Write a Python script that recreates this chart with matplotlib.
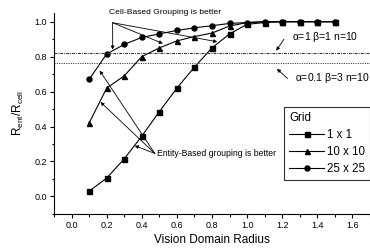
import matplotlib
matplotlib.use("Agg")
import matplotlib.pyplot as plt
from matplotlib.ticker import MultipleLocator

plt.rcParams['font.family'] = ['Liberation Sans', 'DejaVu Sans']
plt.rcParams['mathtext.fontset'] = 'custom'
plt.rcParams['mathtext.rm'] = 'Liberation Sans'
plt.rcParams['mathtext.it'] = 'Liberation Sans'

# Data
radius = [0.1, 0.2, 0.3, 0.4, 0.5, 0.6, 0.7, 0.8, 0.9, 1.0, 1.1, 1.2, 1.3, 1.4, 1.5]
grid_1 = [0.03, 0.105, 0.215, 0.345, 0.485, 0.62, 0.74, 0.85, 0.93, 0.985, 0.995, 1.0, 1.0, 1.0, 1.0]
grid_10 = [0.42, 0.62, 0.69, 0.80, 0.85, 0.89, 0.915, 0.935, 0.975, 0.995, 1.0, 1.0, 1.0, 1.0, 1.0]
grid_25 = [0.67, 0.815, 0.87, 0.91, 0.93, 0.95, 0.965, 0.977, 0.99, 0.995, 1.0, 1.0, 1.0, 1.0, 1.0]
series_labels = ['1 x 1', '10 x 10', '25 x 25']
markers = ['s', '^', 'o']
thresh_a = 0.818   # alpha=1 beta=1 n=10
thresh_b = 0.765   # alpha=0.1 beta=3 n=10

fig = plt.figure(figsize=(3.7, 2.49), dpi=100)
ax = fig.add_axes([0.146, 0.141, 0.854, 0.807])

for ys, m, lab in zip([grid_1, grid_10, grid_25], markers, series_labels):
    ax.plot(radius, ys, color='black', lw=0.8, marker=m, ms=3.6, label=lab)

ax.axhline(thresh_a, color='#333333', lw=0.8, ls=(0, (2.5, 1, 0.8, 1)))
ax.axhline(thresh_b, color='#333333', lw=0.7, ls=(0, (1.1, 1.3)))

ax.set_xlim(-0.1, 1.7)
ax.set_ylim(-0.1, 1.05)
ax.xaxis.set_minor_locator(MultipleLocator(0.1))
ax.yaxis.set_minor_locator(MultipleLocator(0.1))
ax.set_xticks([0.0, 0.2, 0.4, 0.6, 0.8, 1.0, 1.2, 1.4, 1.6])
ax.set_yticks([0.0, 0.2, 0.4, 0.6, 0.8, 1.0])
ax.tick_params(which='major', length=3, width=0.8, labelsize=6.5, pad=2)
ax.tick_params(which='minor', length=1.8, width=0.8)
for s in ['top', 'right']:
    ax.spines[s].set_visible(False)
for s in ['left', 'bottom']:
    ax.spines[s].set_linewidth(0.8)

ax.set_xlabel('Vision Domain Radius', fontsize=8.5, labelpad=3)
ax.set_ylabel(r'R$_{\mathrm{ent}}$/R$_{\mathrm{cell}}$', fontsize=8.5, labelpad=6)

arrow = dict(arrowstyle='-|>', color='black', lw=0.6, mutation_scale=5, shrinkA=0, shrinkB=0)

# Cell-based annotation
ax.text(0.53, 1.05, 'Cell-Based Grouping is better', fontsize=6.1, ha='center', va='center',
        clip_on=False)
for tx, ty in [(0.234, 0.84), (0.52, 0.875), (0.83, 0.885)]:
    ax.annotate('', xy=(tx, ty), xytext=(0.234, 0.994), arrowprops=arrow, annotation_clip=False)

# Entity-based annotation
ax.text(0.485, 0.246, 'Entity-Based grouping is better', fontsize=6.2, ha='left', va='center')
for tx, ty in [(0.16, 0.72), (0.165, 0.54), (0.36, 0.29)]:
    ax.annotate('', xy=(tx, ty), xytext=(0.474, 0.246), arrowprops=arrow)

# Threshold labels
ax.text(1.257, 0.91, r'$\alpha$=1 $\beta$=1 n=10', fontsize=7.5, ha='left', va='center')
ax.annotate('', xy=(1.166, 0.834), xytext=(1.21, 0.90), arrowprops=arrow)
ax.text(1.27, 0.68, r'$\alpha$=0.1 $\beta$=3 n=10', fontsize=7.5, ha='left', va='center')
ax.annotate('', xy=(1.17, 0.73), xytext=(1.23, 0.675), arrowprops=arrow)

leg = ax.legend(title='Grid', loc='upper left', bbox_to_anchor=(0.728, 0.532), fontsize=8.3,
                title_fontsize=8.3, frameon=True, fancybox=False, edgecolor='black',
                handlelength=3.0, handletextpad=0.3, borderpad=0.45, labelspacing=0.42,
                borderaxespad=0)
leg._legend_box.align = 'left'
leg.get_frame().set_linewidth(0.8)
leg.set_clip_on(False)

fig.savefig('out.png', dpi=100)
